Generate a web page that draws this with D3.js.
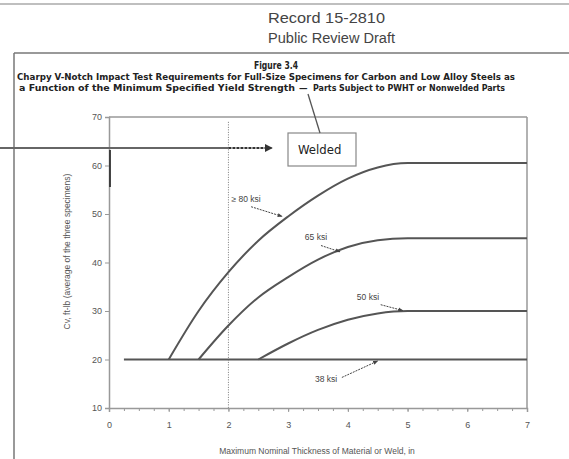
<!DOCTYPE html>
<html><head><meta charset="utf-8">
<script src="https://cdn.jsdelivr.net/npm/d3@7"></script>
<style>body{margin:0;background:#fff}svg{display:block}</style>
</head><body><svg id="c" width="569" height="459"></svg>
<script>
// ---- data ----
const xTicks = [0,1,2,3,4,5,6,7];
const yTicks = [10,20,30,40,50,60,70];
const seriesNames = ["38 ksi","50 ksi","65 ksi","≥ 80 ksi"];
const t38 = [0.25, 7];
const v38 = [20, 20];
const t50 = [2.5, 3, 3.5, 4, 4.5, 5, 7];
const v50 = [20, 23.3, 26.1, 28.2, 29.5, 30, 30];
const t65 = [1.5, 2, 2.5, 3, 3.5, 4, 4.5, 5, 7];
const v65 = [20, 27, 32.8, 37, 40.6, 43.2, 44.6, 45, 45];
const t80 = [1, 1.5, 2, 2.5, 3, 3.5, 4, 4.5, 5, 7];
const v80 = [20, 30, 38, 44.5, 49.5, 53.8, 57.3, 59.6, 60.5, 60.5];

const svg = d3.select("#c");
const x = d3.scaleLinear().domain([0,7]).range([109,527]);
const y = d3.scaleLinear().domain([10,70]).range([408,117]);

// defs
const defs = svg.append("defs");
defs.append("marker").attr("id","ah").attr("viewBox","0 0 10 10").attr("refX",9).attr("refY",5)
  .attr("markerWidth",5).attr("markerHeight",5).attr("orient","auto")
  .append("path").attr("d","M0,1L10,5L0,9Z").attr("fill","#444");
defs.append("marker").attr("id","big").attr("viewBox","0 0 10 10").attr("refX",9).attr("refY",5)
  .attr("markerWidth",4).attr("markerHeight",4).attr("orient","auto").attr("markerUnits","strokeWidth")
  .append("path").attr("d","M0,0L10,5L0,10Z").attr("fill","#333");

// page header
const fa = "Liberation Sans, Arial, sans-serif";
svg.append("line").attr("x1",0).attr("x2",569).attr("y1",4).attr("y2",4).attr("stroke","#aaa").attr("stroke-width",1.5);
svg.append("text").attr("x",268).attr("y",23).attr("font-family",fa).attr("font-size",15.5).attr("fill","#444")
  .attr("textLength",117).attr("lengthAdjust","spacingAndGlyphs").text("Record 15-2810");
svg.append("text").attr("x",268).attr("y",43).attr("font-family",fa).attr("font-size",15.5).attr("fill","#444")
  .attr("textLength",127).attr("lengthAdjust","spacingAndGlyphs").text("Public Review Draft");
// frame
svg.append("line").attr("x1",14).attr("x2",569).attr("y1",53).attr("y2",53).attr("stroke","#777").attr("stroke-width",1.5);
svg.append("line").attr("x1",14).attr("x2",14).attr("y1",53).attr("y2",459).attr("stroke","#777").attr("stroke-width",1.5);

// title
const tf = "Liberation Sans Narrow, DejaVu Sans Condensed, Arial Narrow, sans-serif";
const title = svg.append("g").attr("font-family",tf).attr("font-weight","bold").attr("font-size",9.5).attr("fill","#222");
title.append("text").attr("x",276).attr("y",69).attr("text-anchor","middle").attr("font-size",10.5)
  .attr("textLength",44).attr("lengthAdjust","spacingAndGlyphs").text("Figure 3.4");
title.append("text").attr("x",266).attr("y",80).attr("text-anchor","middle")
  .attr("textLength",498).attr("lengthAdjust","spacingAndGlyphs")
  .text("Charpy V-Notch Impact Test Requirements for Full-Size Specimens for Carbon and Low Alloy Steels as");
title.append("text").attr("x",19).attr("y",91)
  .attr("textLength",276).attr("lengthAdjust","spacingAndGlyphs")
  .text("a Function of the Minimum Specified Yield Strength");
title.append("text").attr("x",299).attr("y",91).text("—");
title.append("text").attr("x",313).attr("y",91)
  .attr("textLength",192).attr("lengthAdjust","spacingAndGlyphs")
  .text("Parts Subject to PWHT or Nonwelded Parts");

// plot frame (top/right)
svg.append("line").attr("x1",x(0)).attr("x2",x(7)).attr("y1",y(70)).attr("y2",y(70)).attr("stroke","#999").attr("stroke-width",1.5);
svg.append("line").attr("x1",x(7)).attr("x2",x(7)).attr("y1",y(70)).attr("y2",y(10)).attr("stroke","#999").attr("stroke-width",1.5);

// dotted vertical at 2 in
svg.append("line").attr("x1",x(2)).attr("x2",x(2)).attr("y1",y(69)).attr("y2",y(10)).attr("stroke","#777").attr("stroke-width",1).attr("stroke-dasharray","1,1.5");

// axes
const yAxis = svg.append("g").attr("transform",`translate(${x(0)},0)`)
  .call(d3.axisLeft(y).tickValues(yTicks).tickSize(4).tickPadding(3).tickFormat(d3.format("d")));
const xAxis = svg.append("g").attr("transform",`translate(0,${y(10)})`)
  .call(d3.axisBottom(x).tickValues(xTicks).tickSize(4).tickPadding(10).tickFormat(d3.format("d")));
svg.append("g").attr("transform",`translate(0,${y(10)})`)
  .call(d3.axisBottom(x).tickValues(d3.range(0,7.01,0.25)).tickSize(3).tickFormat(""))
  .call(g=>g.select(".domain").remove()).selectAll("line").attr("stroke","#999");
[yAxis,xAxis].forEach(g=>{
  g.select(".domain").attr("stroke","#999").attr("stroke-width",1.5);
  g.selectAll(".tick line").attr("stroke","#999");
  g.selectAll("text").attr("font-family",fa).attr("font-size",9).attr("fill","#555");
});
// dark segment on y axis
svg.append("line").attr("x1",x(0)+1).attr("x2",x(0)+1).attr("y1",150).attr("y2",187).attr("stroke","#333").attr("stroke-width",1.8);

// axis titles
svg.append("text").attr("x",317).attr("y",454).attr("text-anchor","middle").attr("font-family",fa).attr("font-size",8.5).attr("fill","#555")
  .text("Maximum Nominal Thickness of Material or Weld, in");
svg.append("text").attr("transform",`translate(70,${y(40)-11}) rotate(-90)`).attr("text-anchor","middle").attr("font-family",fa).attr("font-size",8.5).attr("fill","#555")
  .text("Cv, ft-lb (average of the three specimens)");

// curves
const line = d3.line().x(d=>x(d[0])).y(d=>y(d[1])).curve(d3.curveMonotoneX);
const series = [[t38,v38],[t50,v50],[t65,v65],[t80,v80]];
svg.append("g").selectAll("path").data(series).join("path")
  .attr("d",([t,v])=>line(t.map((d,i)=>[d,v[i]])))
  .attr("fill","none").attr("stroke","#555").attr("stroke-width",2);

// curve labels
const lab = [
  {n:seriesNames[3], tx:2.05, ty:52.4, ax:[2.38,51.5], ae:[2.9,49.5]},
  {n:seriesNames[2], tx:3.28, ty:44.6, ax:[3.55,43.5], ae:[3.87,42.2]},
  {n:seriesNames[1], tx:4.15, ty:32.2, ax:[4.55,31.3], ae:[4.92,30.1]},
  {n:seriesNames[0], tx:3.45, ty:15.3, ax:[3.9,16.3], ae:[4.5,19.7]}
];
const lg = svg.append("g");
lab.forEach(l=>{
  lg.append("text").attr("x",x(l.tx)).attr("y",y(l.ty)).attr("font-family",fa).attr("font-size",8.5).attr("fill","#444").text(l.n);
  lg.append("line").attr("x1",x(l.ax[0])).attr("y1",y(l.ax[1])).attr("x2",x(l.ae[0])).attr("y2",y(l.ae[1]))
    .attr("stroke","#444").attr("stroke-width",1).attr("stroke-dasharray","2,1").attr("marker-end","url(#ah)");
});

// welded annotation
svg.append("line").attr("x1",0).attr("x2",x(2)).attr("y1",148).attr("y2",148).attr("stroke","#666").attr("stroke-width",2);
svg.append("line").attr("x1",x(2)).attr("x2",272).attr("y1",148).attr("y2",148).attr("stroke","#333").attr("stroke-width",2).attr("stroke-dasharray","3,1").attr("marker-end","url(#big)");
svg.append("rect").attr("x",288).attr("y",133).attr("width",68).attr("height",33).attr("fill","#fff").attr("stroke","#888").attr("stroke-width",1.2);
svg.append("text").attr("x",298).attr("y",154).attr("font-family",tf).attr("font-size",13).attr("fill","#222").text("Welded");
svg.append("line").attr("x1",320).attr("y1",133).attr("x2",308).attr("y2",94).attr("stroke","#555").attr("stroke-width",1.3);
</script></body></html>
